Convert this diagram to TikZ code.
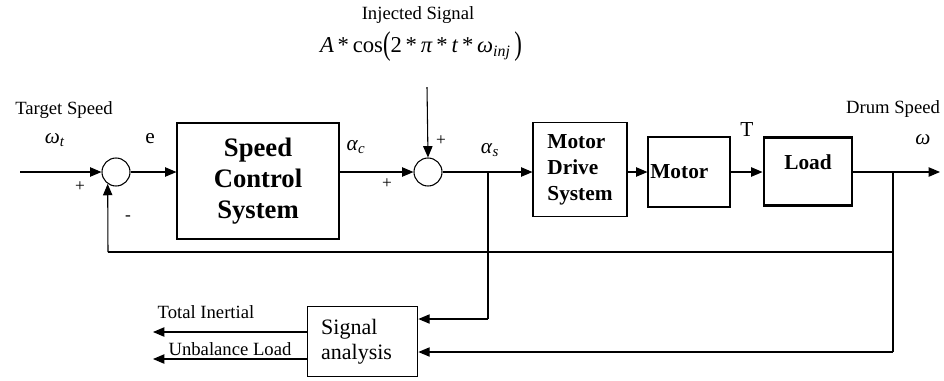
\documentclass[tikz,border=0pt]{standalone}
\usepackage{fontspec}
\usepackage{graphicx}
\setmainfont{Liberation Serif}
\usetikzlibrary{arrows.meta,calc}
\newcommand{\bigparen}[1]{\raisebox{-0.2ex}{\scalebox{1}[1.45]{#1}}}
\begin{document}
\begin{tikzpicture}[x=0.75pt,y=-0.75pt,
  line width=0.8pt,
  arr/.style={-{Triangle[length=8.5pt,width=7pt]}},
  blk/.style={draw,line width=0.8pt,inner sep=1pt},
  sumc/.style={draw,circle,minimum size=21pt,inner sep=0pt,line width=0.8pt},
  lbl/.style={font=\fontsize{14}{16}\selectfont,inner sep=0pt},
  big/.style={font=\fontsize{16}{18}\selectfont,inner sep=0pt},
  sgn/.style={font=\fontsize{13}{13}\selectfont,inner sep=0pt}
]
\useasboundingbox (0,0) rectangle (944,380);
% blocks
\node[sumc] (s1) at (116,172) {};
\node[blk,minimum width=121.5pt,minimum height=87pt,align=center,
  font=\fontsize{20}{23}\selectfont\bfseries] (scs) at (258,181) {Speed\\Control\\System};
\node[sumc] (s2) at (428,172) {};
\node[blk,minimum width=70.5pt,minimum height=70pt,align=left,
  font=\fontsize{16}{19.5}\selectfont\bfseries] (mds) at (580,169.5) {Motor\\Drive\\System};
\node[blk,minimum width=61.5pt,minimum height=52.5pt,text width=58pt,align=left,
  font=\fontsize{16}{19}\selectfont\bfseries] (mot) at (689,172) {Motor};
\node[draw,line width=2.2pt,minimum width=66pt,minimum height=51.5pt] (load) at (808,171.5) {};
\node[inner sep=0pt,font=\fontsize{16}{19}\selectfont\bfseries] (loadtxt) at (808,162) {Load};
\node[blk,minimum width=83pt,minimum height=52pt,text width=62pt,align=left,
  font=\fontsize{16.5}{19}\selectfont] (sa) at (362.5,341.5) {Signal\\analysis};
% coordinates
\coordinate (in) at (20,172);
\coordinate (inj) at (427,87);
\coordinate (out) at (940,172);
\coordinate (b1) at (488,172);
\coordinate (b2) at (893,172);
\coordinate (b1d) at (488,319);
\coordinate (b2d) at (893,352);
\coordinate (fbr) at (893,252);
\coordinate (fbl) at (108,252);
\coordinate (o1) at (153,332);
\coordinate (o2) at (153,359);
% connectors
\draw[arr] (in) -- (s1.west);
\draw[arr] (s1.east) -- (s1.east -| scs.west);
\draw[arr] (s1.east -| scs.east) -- (s2.west);
\draw[arr] (inj) -- (s2.north);
\draw[arr] (s2.east) -- (s2.east -| mds.west);
\draw[arr] (s2.east -| mds.east) -- (s2.east -| mot.west);
\draw[arr] (s2.east -| mot.east) -- (s2.east -| load.west);
\draw[arr] (s2.east -| load.east) -- (out);
\draw (b1) -- (b1d);
\draw[arr] (b1d) -- (b1d -| sa.east);
\draw (b2) -- (b2d);
\draw[arr] (b2d) -- (b2d -| sa.east);
\draw (fbr) -- (fbl);
\draw[arr] (fbl) -- (s1.235);
\draw[arr] (o1 -| sa.west) -- (o1);
\draw[arr] (o2 -| sa.west) -- (o2);
% labels
\node[lbl] (ts) at (64,110) {Target Speed};
\node[big] (wt) at (55,140) {\textit{ω}\textsubscript{\textit{t}}};
\node[sgn] (p1) at (80,187) {+};
\node[sgn] (m1) at (128,218) {-};
\node[big] (e) at (150,139) {e};
\node[big] (ac) at (356,147) {\textit{α}\textsubscript{\textit{c}}};
\node[sgn] (p2) at (387,184) {+};
\node[sgn] (p3) at (441,141) {+};
\node[big] (as) at (490,150) {\textit{α}\textsubscript{\textit{s}}};
\node[big] (T) at (747,130) {T};
\node[lbl] (ds) at (893,109) {Drum Speed};
\node[big] (w) at (923,140) {\textit{ω}};
\node[lbl] (is) at (418,15) {Injected Signal};
\node[inner sep=0pt,font=\fontsize{17}{20}\selectfont] (fm) at (421,47)
  {\textit{A}\,*\,cos\bigparen{(}2\,*\,\textit{π}\,*\,\textit{t}\,*\,\textit{ω}\textsubscript{\textit{inj}}\,\bigparen{)}};
\node[lbl] (ti) at (206,312) {Total Inertial};
\node[lbl] (ul) at (230,349) {Unbalance Load};
\end{tikzpicture}
\end{document}
